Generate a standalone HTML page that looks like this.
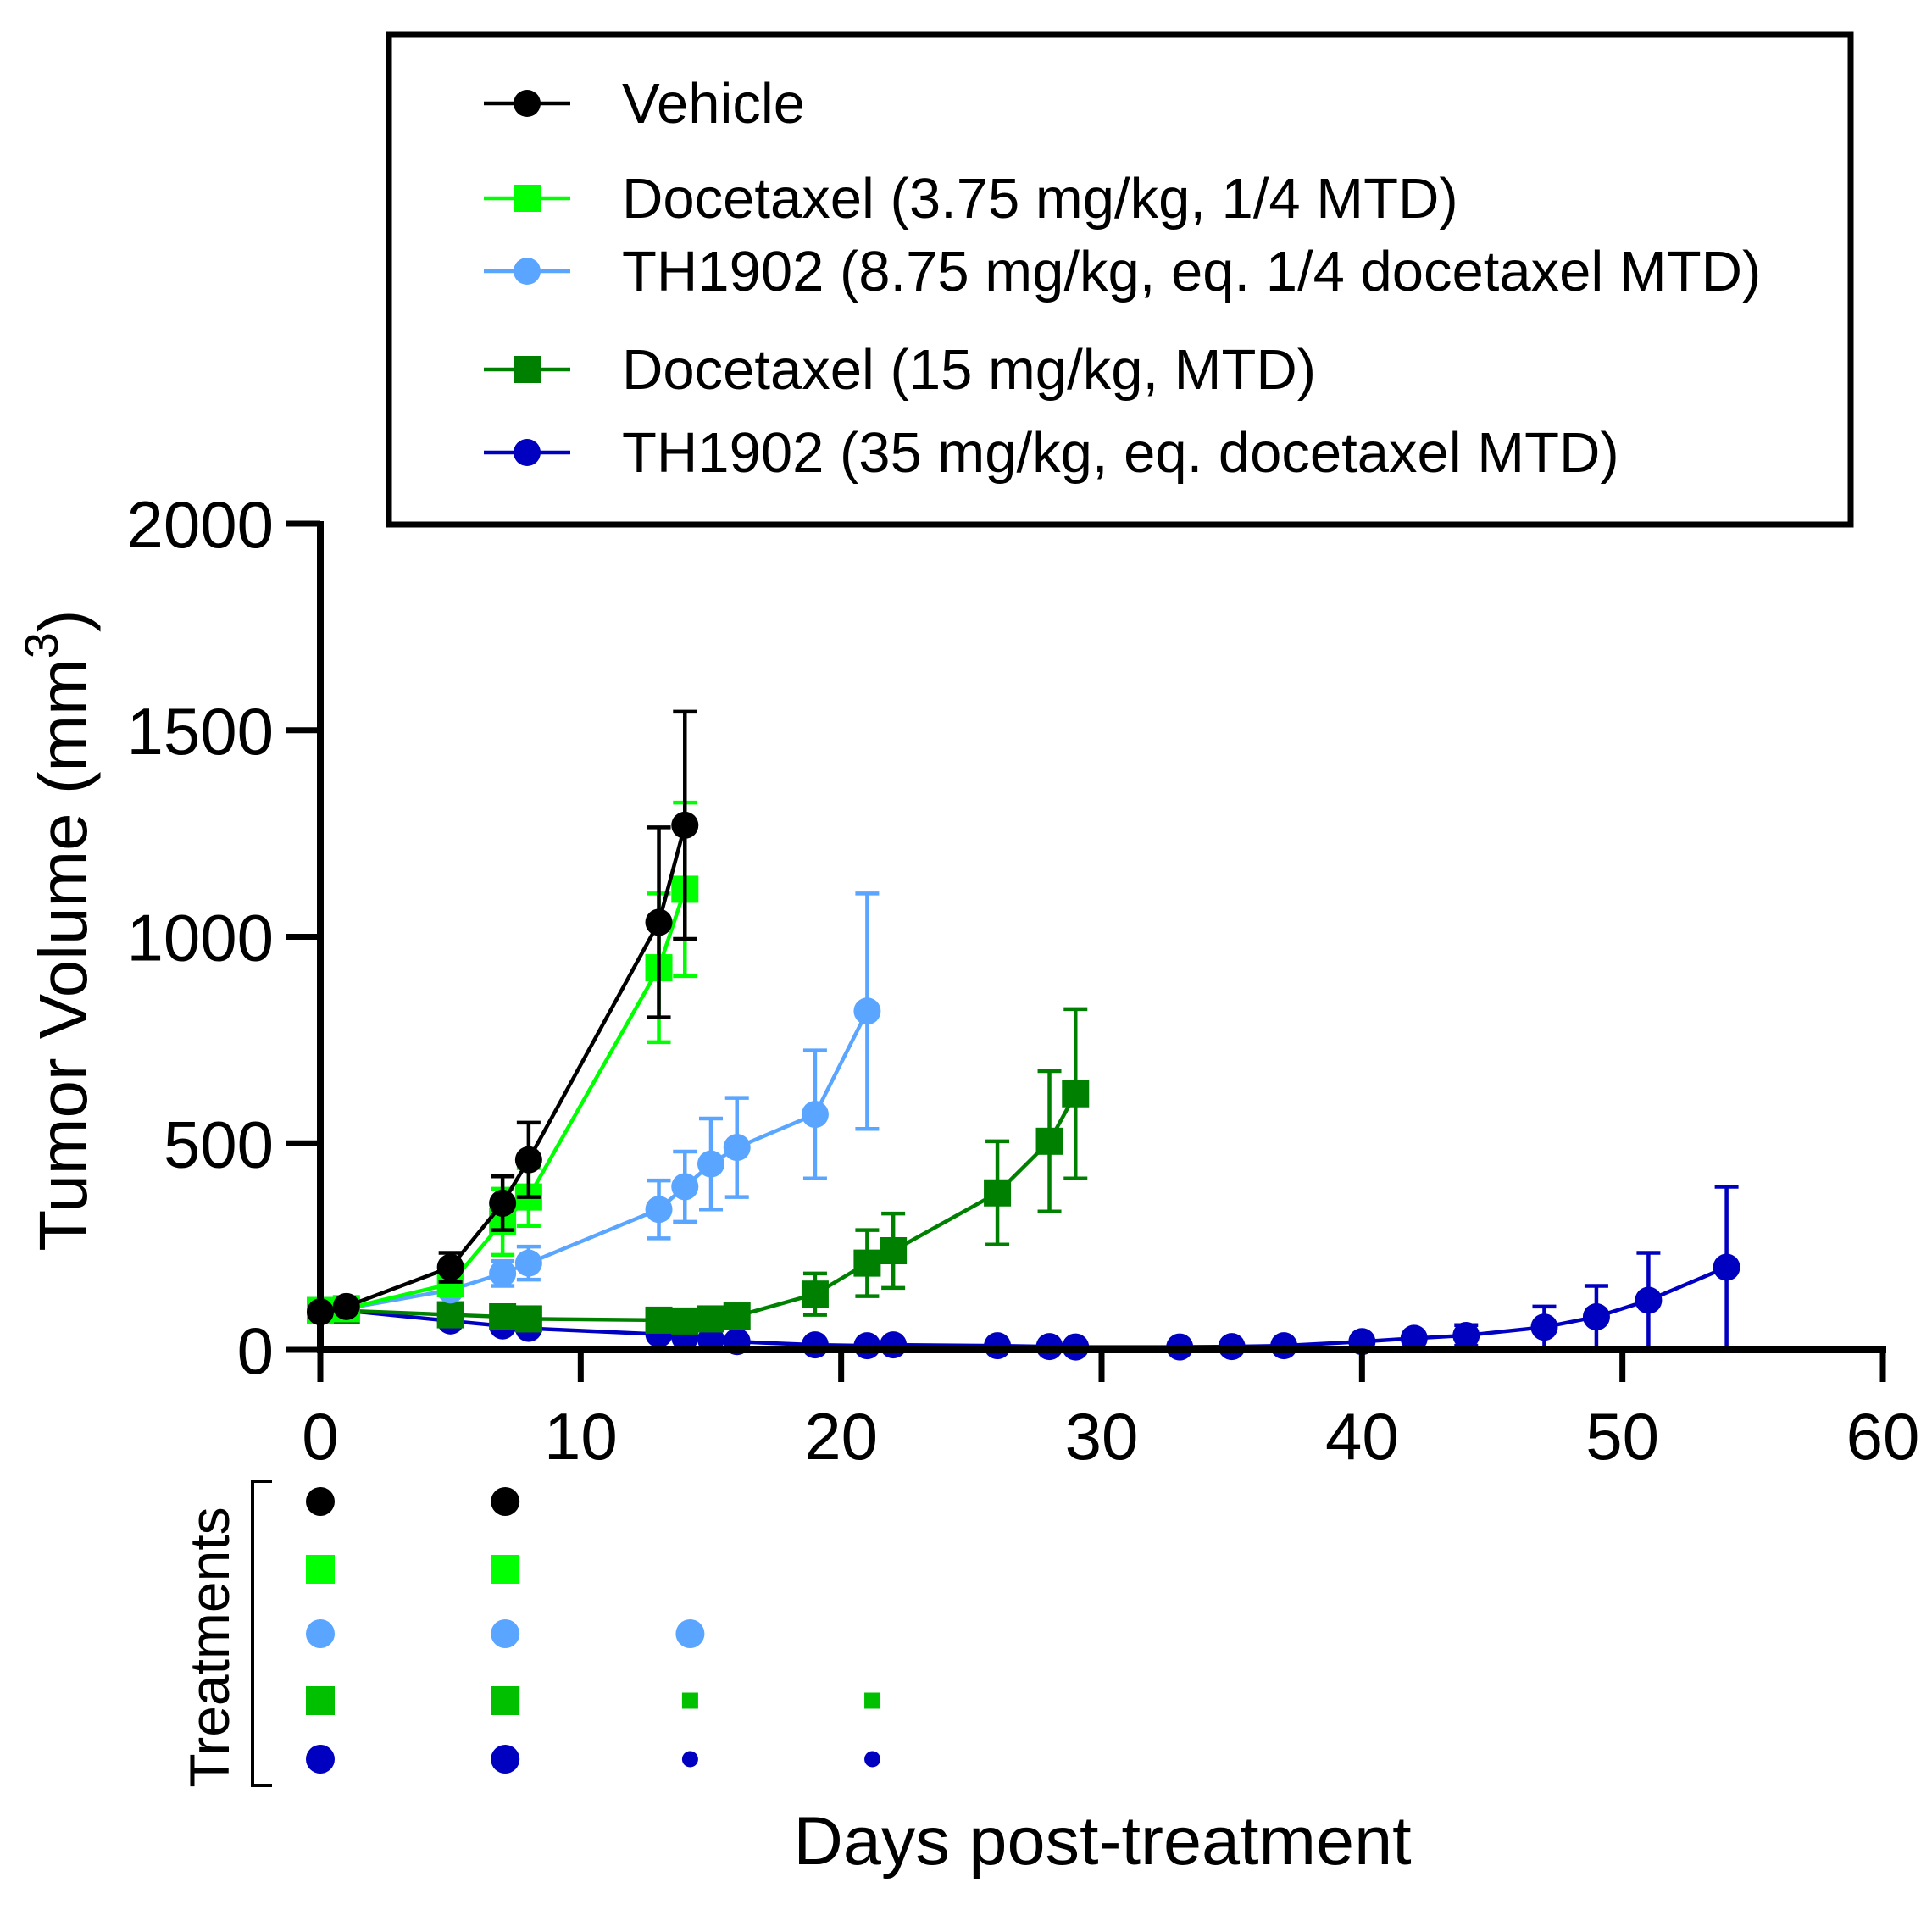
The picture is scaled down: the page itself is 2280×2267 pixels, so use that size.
<!DOCTYPE html>
<html><head><meta charset="utf-8">
<style>
html,body{margin:0;padding:0;background:#fff;}
svg{display:block;font-family:"Liberation Sans",Arial,sans-serif;}
</style></head>
<body>
<svg id="chart" width="2280" height="2267" viewBox="0 0 2280 2267" xmlns="http://www.w3.org/2000/svg">
<rect x="0" y="0" width="2280" height="2267" fill="#fff"/>
<g>
<rect x="459" y="41" width="1725" height="578" fill="none" stroke="#000" stroke-width="7"/>
</g>
<g id="legendEntries"></g>
<g id="plot"></g>
<g id="axes"></g>
<text transform="translate(102,1098) rotate(-90)" text-anchor="middle" font-size="80">Tumor Volume (mm<tspan dy="-34" font-size="56">3</tspan><tspan dy="34">)</tspan></text>
<text x="1301" y="2200" text-anchor="middle" font-size="81">Days post-treatment</text>
<g id="treat"></g>
<text transform="translate(270,1944) rotate(-90)" text-anchor="middle" font-size="66">Treatments</text>
<path d="M321,1748 H298 V2107 H321" fill="none" stroke="#000" stroke-width="4"/>
</svg>
<script>
const NS="http://www.w3.org/2000/svg";
const seriesNames=["Vehicle","Docetaxel (3.75 mg/kg, 1/4 MTD)","TH1902 (8.75 mg/kg, eq. 1/4 docetaxel MTD)","Docetaxel (15 mg/kg, MTD)","TH1902 (35 mg/kg, eq. docetaxel MTD)"];
const seriesColors=["#000000","#00ff00","#5aa5ff","#008000","#0000c0"];
const seriesShapes=["circle","square","circle","square","circle"];
const vehDays=[0,1,5,7,8,13,14];
const vehVals=[92,105,200,355,460,1035,1270];
const vehErr=[0,0,35,65,90,230,275];
const d375Days=[0,1,5,7,8,13,14];
const d375Vals=[95,100,160,310,370,925,1115];
const d375Err=[0,0,0,80,70,180,210];
const t875Days=[0,1,5,7,8,13,14,15,16,19,21];
const t875Vals=[95,100,145,185,210,340,395,450,490,570,820];
const t875Err=[0,0,0,30,40,70,85,110,120,155,285];
const d15Days=[0,1,5,7,8,13,14,15,16,19,21,22,26,28,29];
const d15Vals=[95,95,85,80,75,72,70,75,82,135,210,240,380,505,620];
const d15Err=[0,0,0,0,0,0,0,0,0,50,80,90,125,170,205];
const t35Days=[0,1,5,7,8,13,14,15,16,19,21,22,26,28,29,33,35,37,40,42,44,47,49,51,54];
const t35Vals=[95,95,70,58,52,38,30,25,20,12,10,12,10,8,7,7,8,10,20,28,35,55,80,120,200];
const t35Err=[0,0,0,0,0,0,0,0,0,0,0,0,0,0,0,0,0,0,0,0,25,50,75,115,195];
const xTicks=[0,10,20,30,40,50,60];
const yTicks=[0,500,1000,1500,2000];
const treatDays=[[0,7.1],[0,7.1],[0,7.1,14.2],[0,7.1,14.2,21.2],[0,7.1,14.2,21.2]];
const treatBig=[[1,1],[1,1],[1,1,1],[1,1,0,0],[1,1,0,0]];

const X0=378,X1=2222,Y0=1593,Y1=618;
const xs=d=>X0+(d/60)*(X1-X0);
const ys=v=>Y0-(v/2000)*(Y0-Y1);
function el(tag,attrs,parent){const e=document.createElementNS(NS,tag);for(const k in attrs)e.setAttribute(k,attrs[k]);parent.appendChild(e);return e;}
function marker(shape,cx,cy,size,color,parent){
  if(shape==="circle") return el("circle",{cx:cx,cy:cy,r:size/2,fill:color},parent);
  return el("rect",{x:cx-size/2,y:cy-size/2,width:size,height:size,fill:color},parent);
}
const plot=document.getElementById("plot");
const all=[[vehDays,vehVals,vehErr],[d375Days,d375Vals,d375Err],[t875Days,t875Vals,t875Err],[d15Days,d15Vals,d15Err],[t35Days,t35Vals,t35Err]];
const order=[4,3,2,1,0];
order.forEach(i=>{
  const [ds,vs,es]=all[i];const c=seriesColors[i];
  const g=el("g",{},plot);
  
  
  ds.forEach((d,j)=>{ if(es[j]>0){
    const x=xs(d),yt=ys(vs[j]+es[j]),yb=ys(Math.max(0,vs[j]-es[j]));
    const eb=el("path",{d:`M${x},${yt}V${yb}M${x-14},${yt}H${x+14}M${x-14},${yb}H${x+14}`,stroke:c,"stroke-width":4.5,fill:"none"},g);
    
    
  }});
  const pts=ds.map((d,j)=>xs(d)+","+ys(vs[j])).join(" ");
  const ln=el("polyline",{points:pts,fill:"none",stroke:c,"stroke-width":4.5},g);
  
  
  ds.forEach((d,j)=>{
    const m=marker(seriesShapes[i],xs(d),ys(vs[j]),32,c,g);
    
    
  });
});
const ax=document.getElementById("axes");
const ya=el("path",{d:`M${X0},${Y1-3}V${Y0+4}`,stroke:"#000","stroke-width":8},ax);


const xa=el("path",{d:`M${X0-4},${Y0}H${X1+4}`,stroke:"#000","stroke-width":8},ax);


yTicks.forEach(v=>{
  const y=ys(v);
  el("path",{d:`M${X0-40},${y}H${X0}`,stroke:"#000","stroke-width":7},ax);
  const t=el("text",{x:323,y:y+28,"text-anchor":"end","font-size":78},ax);
  t.textContent=v;
  
  
});
xTicks.forEach(v=>{
  const x=xs(v);
  el("path",{d:`M${x},${Y0}V${Y0+38}`,stroke:"#000","stroke-width":7},ax);
  const t=el("text",{x:x,y:1722,"text-anchor":"middle","font-size":78},ax);
  t.textContent=v;
  
  
});
const lg=document.getElementById("legendEntries");
const rowY=[122,234,320,436,534];
seriesNames.forEach((n,i)=>{
  const g=el("g",{},lg);
  
  
  el("path",{d:`M571,${rowY[i]}H673`,stroke:seriesColors[i],"stroke-width":4.5},g);
  marker(seriesShapes[i],622,rowY[i],32,seriesColors[i],g);
  const t=el("text",{x:734,y:rowY[i]+23,"font-size":67},g);
  t.textContent=n;
});
const tr=document.getElementById("treat");
const trY=[1772,1852,1928,2007,2076];
const trColors=["#000000","#00ff00","#5aa5ff","#00c000","#0000c0"];
treatDays.forEach((ds,i)=>{
  ds.forEach((d,j)=>{
    const s=treatBig[i][j]?34:19;
    const m=marker(seriesShapes[i],xs(d),trY[i],s,trColors[i],tr);
    
    
  });
});
</script>
</body></html>
